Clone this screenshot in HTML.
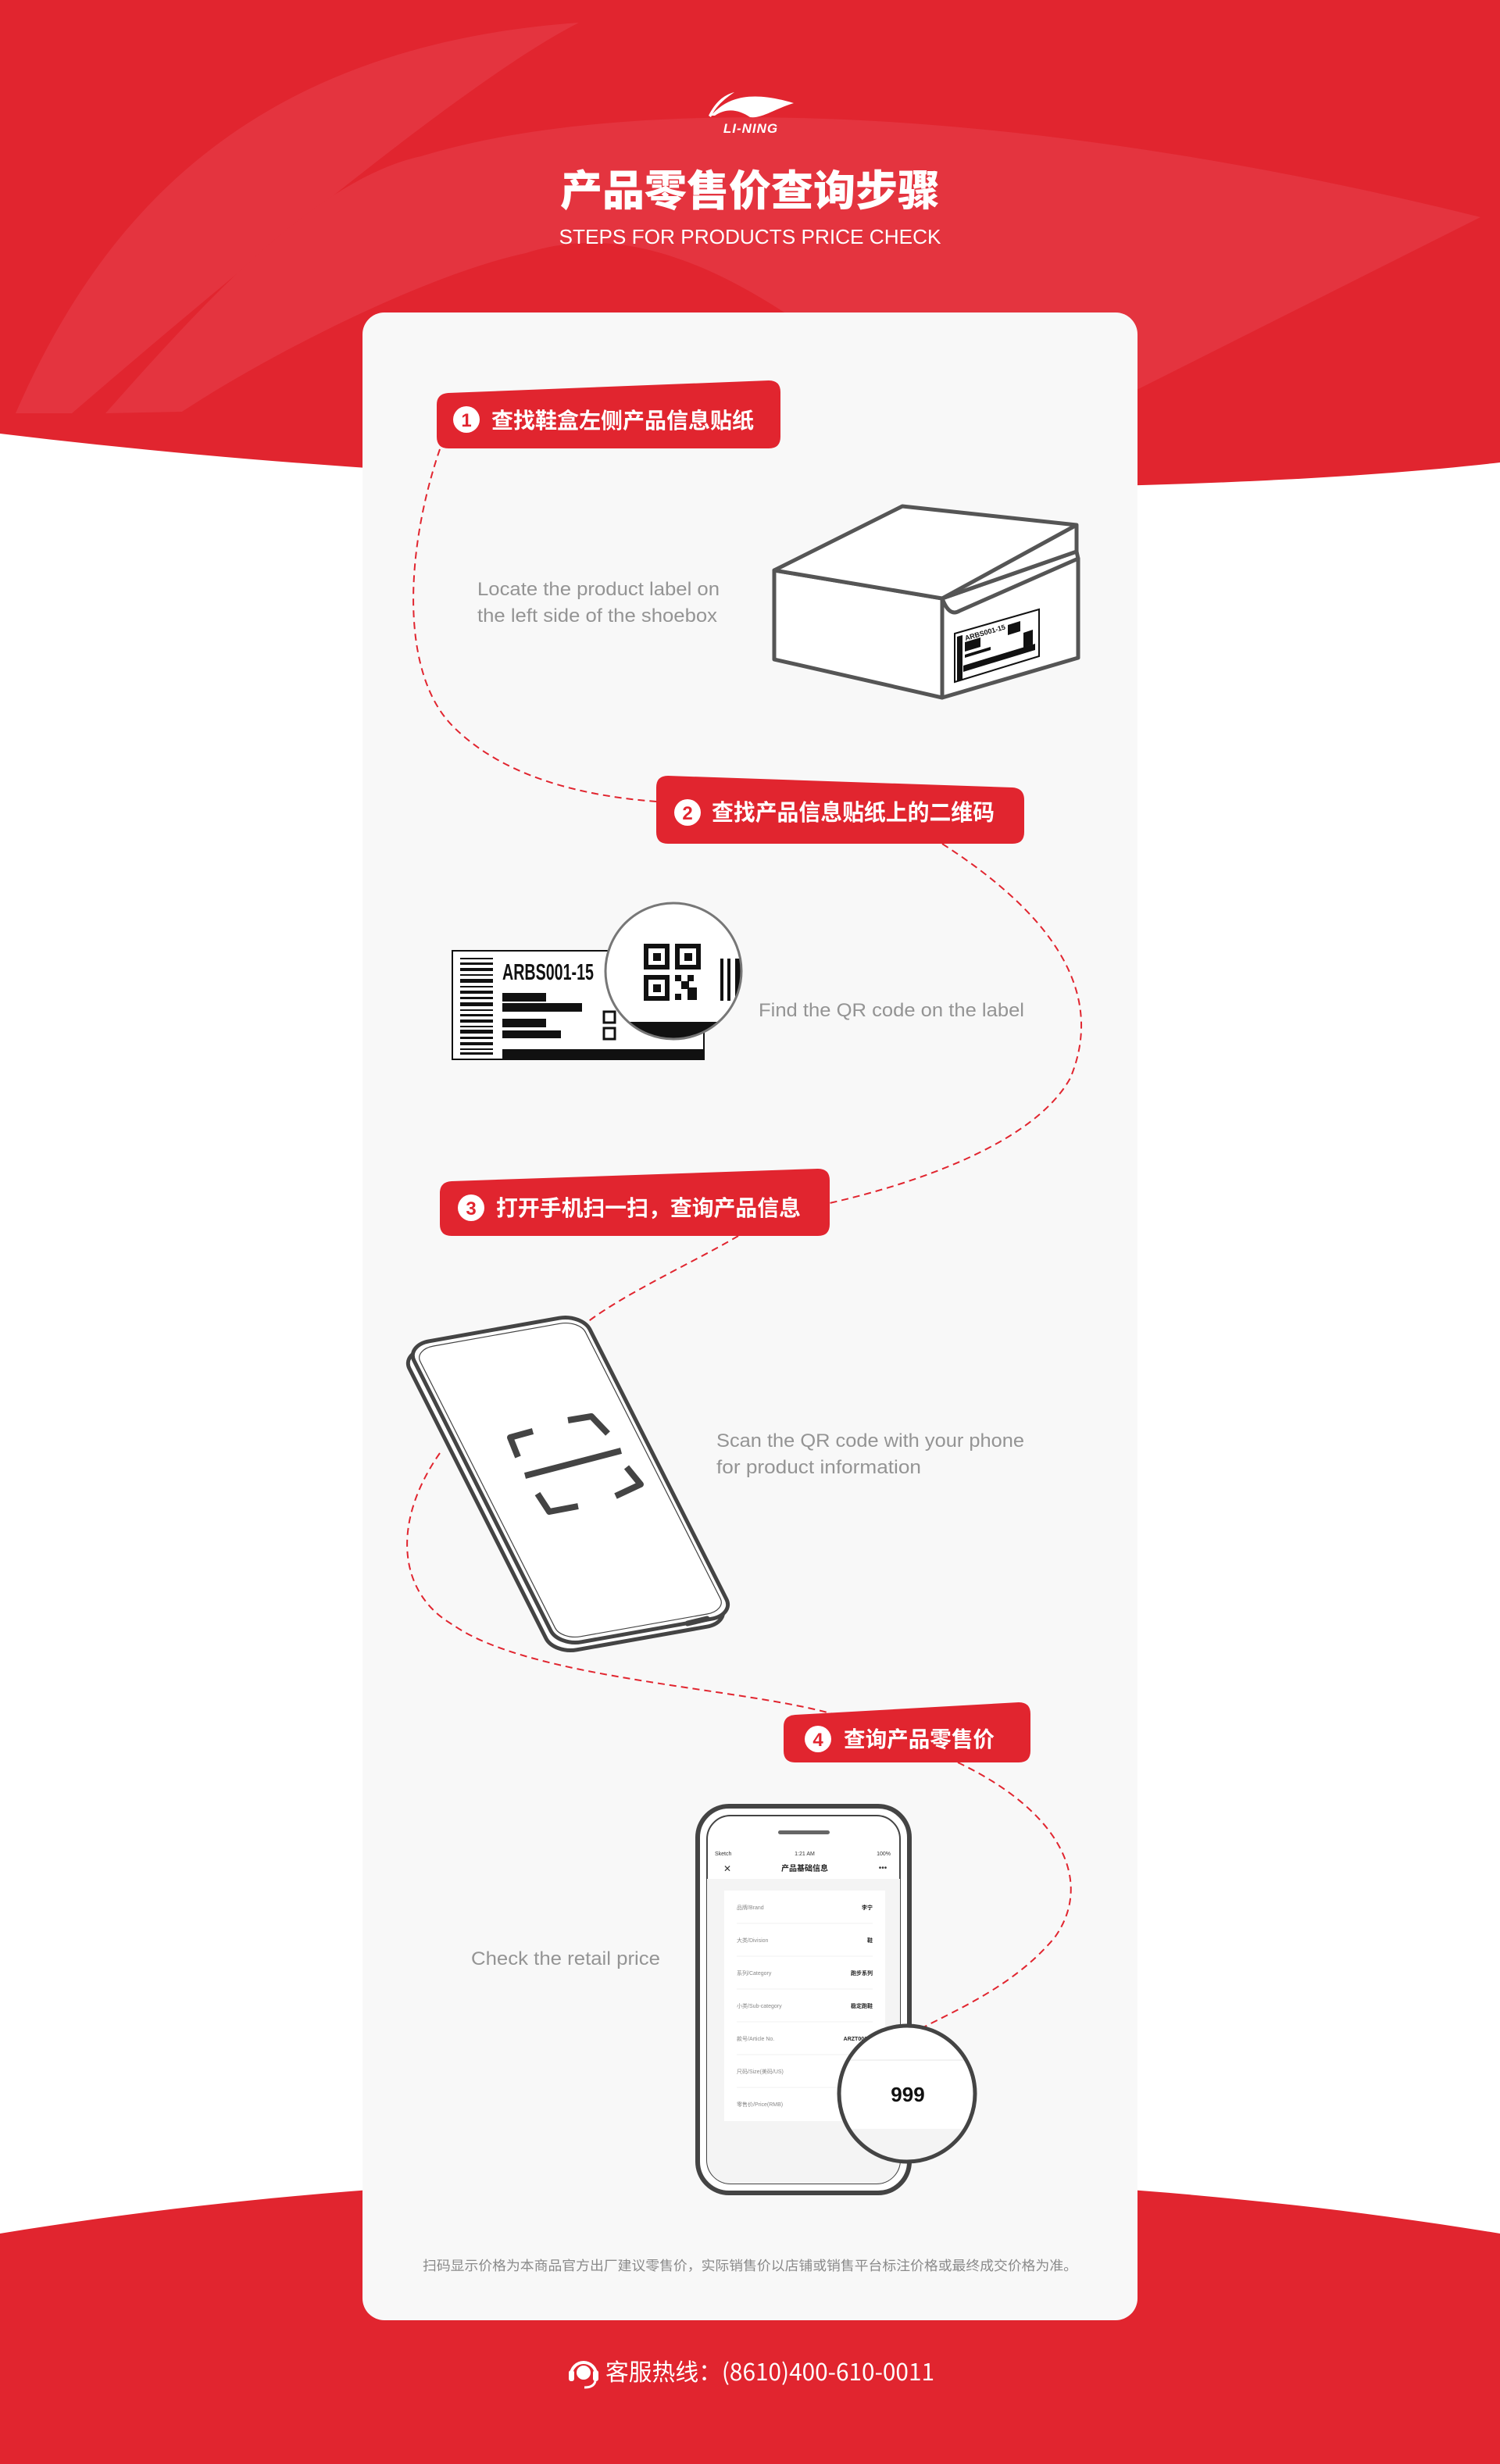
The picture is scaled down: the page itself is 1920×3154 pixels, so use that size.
<!DOCTYPE html>
<html><head><meta charset="utf-8"><style>
html,body{margin:0;padding:0;background:#fff}
svg{display:block}
text{font-family:"Liberation Sans","Noto Sans CJK SC",sans-serif}
.cj{font-family:"Noto Sans CJK SC","WenQuanYi Zen Hei",sans-serif}
</style></head><body>
<svg width="1920" height="3154" viewBox="0 0 1920 3154" xmlns="http://www.w3.org/2000/svg">
<defs>
<clipPath id="mag1"><circle cx="862" cy="1243" r="86"/></clipPath>
<clipPath id="mag2"><circle cx="1161" cy="2680" r="85"/></clipPath>
<clipPath id="scr"><rect x="905" y="2324" width="247" height="471" rx="30"/></clipPath>
</defs>
<rect width="1920" height="3154" fill="#fff"/>
<path d="M0,0 H1920 V592 C1500,640 700,640 0,555 Z" fill="#e1252f"/>
<path d="M20,529 C120,300 300,60 741,29 C600,100 300,350 92,529 Z" fill="#e4343f"/>
<path d="M135,529 C250,400 400,230 539,200 C800,120 1300,130 1895,278 L1457,498 L1004,400 C850,300 750,300 673,324 C550,350 350,450 233,527 Z" fill="#e4343f"/>
<path d="M0,2859 C600,2760 1320,2760 1920,2859 V3154 H0 Z" fill="#e1252f"/>
<path d="M910,148 C930,125 960,115 1016,132 C990,140 975,152 960,150 C945,140 930,138 915,148 Z M907,148 C915,132 925,122 940,118 C925,128 915,138 910,150 Z" fill="#fff"/>
<text x="961" y="170" text-anchor="middle" font-size="17" font-style="italic" font-weight="bold" fill="#fff" letter-spacing="1">LI-NING</text>
<text class="cj" x="960" y="263" text-anchor="middle" font-size="54" font-weight="900" fill="#fff" textLength="486" lengthAdjust="spacingAndGlyphs">产品零售价查询步骤</text>
<text x="960" y="312" text-anchor="middle" font-size="26" fill="#fff" textLength="489" lengthAdjust="spacingAndGlyphs">STEPS FOR PRODUCTS PRICE CHECK</text>
<rect x="464" y="400" width="992" height="2570" rx="28" fill="#f8f8f8"/>
<g fill="none" stroke="#e1252f" stroke-width="2" stroke-dasharray="9 6">
<path d="M563,575 C520,700 510,860 580,930 C650,1000 760,1020 840,1026"/>
<path d="M1206,1080 C1330,1160 1420,1260 1370,1380 C1320,1470 1150,1520 1062,1540"/>
<path d="M945,1582 C880,1620 790,1660 742,1700"/>
<path d="M563,1860 C500,1950 510,2040 580,2080 C680,2150 950,2160 1070,2195"/>
<path d="M1226,2256 C1360,2320 1400,2410 1350,2480 C1300,2540 1230,2570 1180,2596"/>
</g>
<path d="M574,503 L984,487 Q999,487 999,502 L999,559 Q999,574 984,574 L574,574 Q559,574 559,559 L559,518 Q559,504 574,503 Z" fill="#e1252f"/>
<circle cx="597" cy="537" r="17" fill="#fff"/><text x="597" y="546" text-anchor="middle" font-size="24" font-weight="bold" fill="#e1252f">1</text>
<text class="cj" x="629" y="548" font-size="28" font-weight="bold" fill="#fff" textLength="336" lengthAdjust="spacingAndGlyphs">查找鞋盒左侧产品信息贴纸</text>
<path d="M855,993 L1296,1008 Q1311,1009 1311,1024 L1311,1065 Q1311,1080 1296,1080 L855,1080 Q840,1080 840,1065 L840,1008 Q840,993 855,993 Z" fill="#e1252f"/>
<circle cx="880" cy="1040" r="17" fill="#fff"/><text x="880" y="1049" text-anchor="middle" font-size="24" font-weight="bold" fill="#e1252f">2</text>
<text class="cj" x="911" y="1050" font-size="29" font-weight="bold" fill="#fff" textLength="362" lengthAdjust="spacingAndGlyphs">查找产品信息贴纸上的二维码</text>
<path d="M578,1512 L1047,1496 Q1062,1496 1062,1511 L1062,1567 Q1062,1582 1047,1582 L578,1582 Q563,1582 563,1567 L563,1527 Q563,1513 578,1512 Z" fill="#e1252f"/>
<circle cx="603" cy="1546" r="17" fill="#fff"/><text x="603" y="1555" text-anchor="middle" font-size="24" font-weight="bold" fill="#e1252f">3</text>
<text class="cj" x="635" y="1556" font-size="28" font-weight="bold" fill="#fff" textLength="390" lengthAdjust="spacingAndGlyphs">打开手机扫一扫，查询产品信息</text>
<path d="M1018,2195 L1304,2179 Q1319,2179 1319,2194 L1319,2241 Q1319,2256 1304,2256 L1018,2256 Q1003,2256 1003,2241 L1003,2210 Q1003,2196 1018,2195 Z" fill="#e1252f"/>
<circle cx="1047" cy="2226" r="17" fill="#fff"/><text x="1047" y="2235" text-anchor="middle" font-size="24" font-weight="bold" fill="#e1252f">4</text>
<text class="cj" x="1080" y="2236" font-size="28" font-weight="bold" fill="#fff" textLength="193" lengthAdjust="spacingAndGlyphs">查询产品零售价</text>
<g font-size="24" fill="#949494" lengthAdjust="spacingAndGlyphs">
<text x="611" y="762" textLength="310" lengthAdjust="spacingAndGlyphs">Locate the product label on</text>
<text x="611" y="796" textLength="307" lengthAdjust="spacingAndGlyphs">the left side of the shoebox</text>
<text x="971" y="1301" textLength="340" lengthAdjust="spacingAndGlyphs">Find the QR code on the label</text>
<text x="917" y="1852" textLength="394" lengthAdjust="spacingAndGlyphs">Scan the QR code with your phone</text>
<text x="917" y="1886" textLength="262" lengthAdjust="spacingAndGlyphs">for product information</text>
<text x="603" y="2515" textLength="242" lengthAdjust="spacingAndGlyphs">Check the retail price</text>
</g>
<g stroke="#555" stroke-width="5" fill="#fff" stroke-linejoin="round">
<path d="M991,730 L1206,766 L1206,893 L991,844 Z"/>
<path d="M1206,766 L1380,715 L1380,842 L1206,893 Z"/>
<path d="M1206,766 Q1215,790 1228,782 L1380,715 L1378,706 Z"/>
<path d="M991,730 L1155,648 L1378,672 L1378,706 L1206,766 Z"/>
<path d="M1206,766 L1378,672" fill="none"/>
</g>
<path d="M1222,811 L1330,780 L1330,840 L1222,873 Z" fill="#fff" stroke="#111" stroke-width="2"/>
<g fill="#111">
<path d="M1225,815 L1232,813 L1232,870 L1225,872 Z"/>
<path d="M1233,852 L1325,824 L1325,832 L1233,860 Z"/>
<path d="M1235,822 L1255,816 L1255,828 L1235,834 Z"/>
<path d="M1290,800 L1306,795 L1306,808 L1290,813 Z"/>
<path d="M1310,810 L1322,806 L1322,825 L1310,829 Z"/>
<path d="M1235,838 L1268,828 L1268,832 L1235,842 Z"/>
</g>
<text x="1236" y="820" font-size="9" font-weight="bold" fill="#111" transform="rotate(-16 1236 820)">ARBS001-15</text>
<rect x="579" y="1217" width="322" height="139" fill="#fff" stroke="#111" stroke-width="2"/>
<g fill="#111">
<rect x="589" y="1226" width="42" height="2"/><rect x="589" y="1232" width="42" height="3"/><rect x="589" y="1239" width="42" height="4"/><rect x="589" y="1247" width="42" height="2"/><rect x="589" y="1253" width="42" height="5"/><rect x="589" y="1262" width="42" height="2"/><rect x="589" y="1268" width="42" height="4"/><rect x="589" y="1276" width="42" height="3"/><rect x="589" y="1283" width="42" height="5"/><rect x="589" y="1292" width="42" height="2"/><rect x="589" y="1298" width="42" height="3"/><rect x="589" y="1305" width="42" height="4"/><rect x="589" y="1313" width="42" height="2"/><rect x="589" y="1318" width="42" height="5"/><rect x="589" y="1327" width="42" height="3"/><rect x="589" y="1334" width="42" height="4"/><rect x="589" y="1342" width="42" height="2"/><rect x="589" y="1347" width="42" height="3"/>
<rect x="643" y="1271" width="56" height="11"/><rect x="643" y="1284" width="102" height="11"/><rect x="643" y="1304" width="56" height="11"/><rect x="643" y="1319" width="75" height="10"/>
<rect x="643" y="1343" width="258" height="13"/>
<rect x="773" y="1295" width="14" height="14" fill="none" stroke="#111" stroke-width="3"/><rect x="773" y="1316" width="14" height="14" fill="none" stroke="#111" stroke-width="3"/>
</g>
<text x="643" y="1254" font-size="29" font-weight="bold" fill="#111" textLength="117" lengthAdjust="spacingAndGlyphs">ARBS001-15</text>
<circle cx="862" cy="1243" r="87" fill="#fff"/>
<g clip-path="url(#mag1)" fill="#111">
<rect x="775" y="1308" width="180" height="24"/>
<rect x="827" y="1211" width="27" height="27" fill="none" stroke="#111" stroke-width="6"/><rect x="836" y="1220" width="10" height="10"/>
<rect x="867" y="1211" width="27" height="27" fill="none" stroke="#111" stroke-width="6"/><rect x="876" y="1220" width="10" height="10"/>
<rect x="827" y="1251" width="27" height="27" fill="none" stroke="#111" stroke-width="6"/><rect x="836" y="1260" width="10" height="10"/>
<rect x="864" y="1248" width="8" height="8"/><rect x="880" y="1248" width="8" height="8"/><rect x="872" y="1256" width="10" height="10"/><rect x="864" y="1272" width="8" height="8"/><rect x="880" y="1264" width="12" height="16"/>
<rect x="922" y="1227" width="4" height="54"/><rect x="931" y="1227" width="4" height="54"/><rect x="941" y="1227" width="8" height="54"/>
</g>
<circle cx="862" cy="1243" r="87" fill="none" stroke="#777" stroke-width="3"/>
<g transform="translate(-6,10) matrix(2.25,-0.4,1.114,2.2,520,1722)"><rect x="0" y="0" width="100" height="175" rx="13" ry="9" fill="#fff" stroke="#444" stroke-width="5" vector-effect="non-scaling-stroke"/></g>
<g transform="matrix(2.25,-0.4,1.114,2.2,520,1722)">
<rect x="0" y="0" width="100" height="175" rx="13" ry="9" fill="#fff" stroke="#444" stroke-width="5" vector-effect="non-scaling-stroke"/>
<rect x="3" y="3" width="94" height="169" rx="11" ry="7" fill="#fff" stroke="#444" stroke-width="1.2" vector-effect="non-scaling-stroke"/>
</g>
<path d="M880,2078 L905,2072" stroke="#444" stroke-width="7" stroke-linecap="round"/>
<g fill="none" stroke="#444" stroke-width="8" stroke-linejoin="round">
<path d="M682,1832 L653,1840 L663,1865"/>
<path d="M727,1818 L757,1813 L778,1835"/>
<path d="M688,1912 L703,1935 L740,1928"/>
<path d="M802,1878 L820,1900 L788,1915"/>
<path d="M672,1889 L795,1857"/>
</g>
<rect x="893" y="2312" width="271" height="495" rx="40" fill="#fff" stroke="#444" stroke-width="6"/>
<rect x="905" y="2324" width="247" height="471" rx="30" fill="#fff" stroke="#444" stroke-width="2"/>
<g clip-path="url(#scr)">
<rect x="905" y="2405" width="250" height="400" fill="#f4f4f4"/>
<rect x="927" y="2420" width="206" height="295" fill="#fff"/>
</g>
<rect x="996" y="2343" width="66" height="5" rx="2.5" fill="#666"/>
<g font-size="7" fill="#333">
<text x="915" y="2375">Sketch</text><text x="1030" y="2375" text-anchor="middle">1:21 AM</text><text x="1140" y="2375" text-anchor="end">100%</text>
</g>
<text x="931" y="2396" font-size="12" fill="#333" text-anchor="middle">✕</text>
<text x="1130" y="2394" font-size="10" fill="#333" text-anchor="middle">•••</text>
<text class="cj" x="1030" y="2395" font-size="10" font-weight="bold" fill="#222" text-anchor="middle">产品基础信息</text>
<g font-size="7" fill="#888" class="cj">
<text x="943" y="2444">品牌/Brand</text><text x="943" y="2486">大类/Division</text><text x="943" y="2528">系列/Category</text><text x="943" y="2570">小类/Sub-category</text><text x="943" y="2612">款号/Article No.</text><text x="943" y="2654">尺码/Size(美码/US)</text><text x="943" y="2696">零售价/Price(RMB)</text>
</g>
<g font-size="7" fill="#222" font-weight="bold" text-anchor="end" class="cj">
<text x="1117" y="2444">李宁</text><text x="1117" y="2486">鞋</text><text x="1117" y="2528">跑步系列</text><text x="1117" y="2570">稳定跑鞋</text><text x="1110" y="2612">ARZT001</text>
</g>
<g stroke="#f0f0f0" stroke-width="1"><path d="M943,2462H1117M943,2504H1117M943,2546H1117M943,2588H1117M943,2630H1117M943,2672H1117"/></g>
<circle cx="1161" cy="2680" r="87" fill="#fff"/>
<g clip-path="url(#mag2)"><rect x="1070" y="2725" width="200" height="60" fill="#f4f4f4"/><rect x="1070" y="2636" width="200" height="2" fill="#f2f2f2"/></g>
<circle cx="1161" cy="2680" r="87" fill="none" stroke="#444" stroke-width="5"/>
<text x="1162" y="2690" font-size="26" font-weight="bold" fill="#111" text-anchor="middle">999</text>
<text class="cj" x="960" y="2906" font-size="17" fill="#8a8a8a" text-anchor="middle" textLength="838" lengthAdjust="spacingAndGlyphs">扫码显示价格为本商品官方出厂建议零售价，实际销售价以店铺或销售平台标注价格或最终成交价格为准。</text>
<g fill="none" stroke="#fff" stroke-width="4"><path d="M731,3040 A16,16 0 1 1 763,3040"/></g>
<rect x="728" y="3034" width="7" height="14" rx="3" fill="#fff"/><rect x="759" y="3034" width="7" height="14" rx="3" fill="#fff"/>
<circle cx="747" cy="3037" r="9" fill="#fff"/>
<path d="M762,3048 Q760,3056 748,3056" fill="none" stroke="#fff" stroke-width="3"/>
<text class="cj" x="775" y="3047" font-size="30" fill="#fff" textLength="421" lengthAdjust="spacingAndGlyphs">客服热线：(8610)400-610-0011</text>
</svg>
</body></html>
